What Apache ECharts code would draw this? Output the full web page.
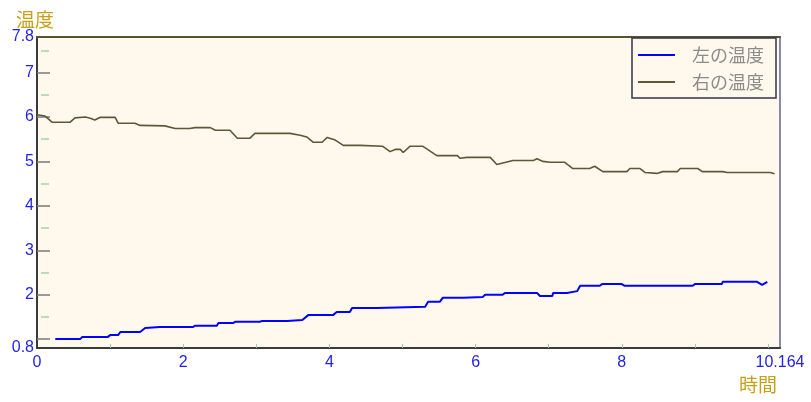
<!DOCTYPE html>
<html><head><meta charset="utf-8">
<script src="https://cdn.jsdelivr.net/npm/echarts@6/dist/echarts.min.js"></script>
<style>html,body{margin:0;padding:0;background:#fff}#c{width:811px;height:402px}</style>
</head><body><div id="c"></div>
<script>
const seriesNames = ['左の温度', '右の温度'];
const xName = '時間';
const yName = '温度';
const leftTimes = [0.25,0.59,0.62,0.97,1.00,1.11,1.14,1.41,1.48,1.68,2.13,2.16,2.46,2.48,2.68,2.71,3.05,3.08,3.42,3.43,3.63,3.71,4.05,4.10,4.28,4.31,4.65,5.31,5.35,5.51,5.55,5.83,6.10,6.13,6.37,6.40,6.84,6.88,7.05,7.06,7.25,7.39,7.43,7.70,7.73,8.00,8.04,8.97,9.00,9.37,9.38,9.85,9.92,9.99];
const leftTemps = [1.00,1.00,1.05,1.05,1.09,1.09,1.16,1.16,1.25,1.27,1.27,1.30,1.30,1.36,1.36,1.39,1.39,1.41,1.41,1.43,1.43,1.54,1.54,1.61,1.61,1.70,1.70,1.73,1.84,1.84,1.93,1.93,1.95,2.00,2.00,2.04,2.04,1.97,1.97,2.04,2.04,2.08,2.20,2.20,2.24,2.24,2.20,2.20,2.24,2.24,2.29,2.29,2.22,2.29];
const rightTimes = [0.00,0.11,0.21,0.45,0.52,0.66,0.73,0.79,0.86,1.07,1.11,1.34,1.41,1.75,1.89,2.09,2.16,2.37,2.44,2.64,2.74,2.91,2.98,3.46,3.60,3.69,3.78,3.90,3.97,4.08,4.19,4.42,4.73,4.83,4.90,4.97,5.01,5.10,5.28,5.47,5.75,5.79,5.88,6.20,6.29,6.51,6.79,6.84,6.92,7.02,7.22,7.33,7.56,7.63,7.74,8.07,8.11,8.25,8.32,8.48,8.56,8.76,8.80,9.04,9.10,9.38,9.44,10.03,10.09];
const rightTemps = [6.05,6.02,5.88,5.88,5.98,6.00,5.97,5.93,5.99,5.99,5.86,5.86,5.81,5.80,5.74,5.74,5.76,5.76,5.70,5.70,5.52,5.52,5.63,5.63,5.59,5.55,5.43,5.43,5.54,5.48,5.36,5.36,5.34,5.22,5.27,5.27,5.20,5.34,5.34,5.13,5.13,5.07,5.09,5.09,4.93,5.02,5.02,5.06,5.00,4.98,4.98,4.84,4.84,4.89,4.77,4.77,4.84,4.84,4.75,4.73,4.77,4.77,4.84,4.84,4.77,4.77,4.75,4.75,4.72];
const xLabelValues = [0, 2, 4, 6, 8, 10.164];
const yLabelValues = [0.8, 2, 3, 4, 5, 6, 7, 7.8];
const xTickValues = [1, 2, 3, 4, 5, 6, 7, 8, 9, 10];
const yMajorTickValues = [1, 2, 3, 4, 5, 6, 7];
const yMinorTickValues = [1.5, 2.5, 3.5, 4.5, 5.5, 6.5, 7.5];
const xMin = 0, xMax = 10.164, yMin = 0.8, yMax = 7.8;

const zip = (a, b) => a.map((v, i) => [v, b[i]]);
const labelStyle = { color: '#2222ee', fontSize: 16, fontFamily: 'Liberation Sans' };
const nameStyle = { color: '#c8a018', fontSize: 19, fontFamily: 'Noto Sans CJK JP' };

const chart = echarts.init(document.getElementById('c'), null, { renderer: 'canvas' });
chart.setOption({
  animation: false,
  backgroundColor: '#ffffff',
  grid: { left: 37, right: 31, top: 37, bottom: 54, show: true, backgroundColor: '#fef9ec', borderWidth: 0 },
  legend: {
    orient: 'vertical', right: 35, top: 38,
    padding: [7, 12, 6, 6], itemGap: 7, itemWidth: 37, itemHeight: 2,
    icon: 'rect',
    backgroundColor: '#fef9ec', borderColor: '#33334f', borderWidth: 1.5,
    textStyle: { color: '#8c8c8c', fontSize: 18, fontFamily: 'Noto Sans CJK JP', lineHeight: 20, padding: [0, 0, 0, 12] },
    data: seriesNames
  },
  xAxis: [
    {
      type: 'value', min: xMin, max: xMax, position: 'bottom',
      name: xName, nameLocation: 'end', nameGap: -3,
      nameTextStyle: Object.assign({ align: 'right', verticalAlign: 'top', padding: [27, 0, 0, 0] }, nameStyle),
      axisLine: { show: true, lineStyle: { color: '#3a3a3a', width: 2 } },
      axisTick: { show: true, inside: true, length: 4, customValues: xTickValues, lineStyle: { color: '#9fc89f', width: 1 } },
      axisLabel: Object.assign({ customValues: xLabelValues, margin: 7, formatter: v => String(v) }, labelStyle),
      splitLine: { show: false }
    },
    {
      type: 'value', min: xMin, max: xMax, position: 'top',
      axisLine: { show: true, lineStyle: { color: '#55552f', width: 2 } },
      axisTick: { show: false }, axisLabel: { show: false }, splitLine: { show: false }
    }
  ],
  yAxis: [
    {
      type: 'value', min: yMin, max: yMax, position: 'left',
      name: yName, nameLocation: 'end', nameGap: 5,
      nameTextStyle: Object.assign({ align: 'center', padding: [0, 4, 0, 0] }, nameStyle),
      axisLine: { show: true, lineStyle: { color: '#3a3a3a', width: 2 } },
      axisTick: { show: true, inside: true, length: 13, customValues: yMajorTickValues, lineStyle: { color: '#7a7a7a', width: 1.5 } },
      axisLabel: Object.assign({ customValues: yLabelValues, margin: 3, formatter: v => String(v) }, labelStyle),
      splitLine: { show: false }
    },
    {
      type: 'value', min: yMin, max: yMax, position: 'left', offset: -4,
      axisLine: { show: false },
      axisTick: { show: true, inside: true, length: 8, customValues: yMinorTickValues, lineStyle: { color: '#a8d4a8', width: 1.5 } },
      axisLabel: { show: false }, splitLine: { show: false }
    },
    {
      type: 'value', min: yMin, max: yMax, position: 'right',
      axisLine: { show: true, lineStyle: { color: '#8a8aa8', width: 2 } },
      axisTick: { show: false }, axisLabel: { show: false }, splitLine: { show: false }
    }
  ],
  series: [
    {
      name: seriesNames[0], type: 'line', xAxisIndex: 0, yAxisIndex: 0,
      symbol: 'none', smooth: false,
      lineStyle: { color: '#0000ff', width: 2 }, itemStyle: { color: '#0000ff' },
      data: zip(leftTimes, leftTemps)
    },
    {
      name: seriesNames[1], type: 'line', xAxisIndex: 0, yAxisIndex: 0,
      symbol: 'none', smooth: false,
      lineStyle: { color: '#5a5a38', width: 1.6 }, itemStyle: { color: '#5a5a38' },
      data: zip(rightTimes, rightTemps)
    }
  ]
});
</script>
</body></html>
